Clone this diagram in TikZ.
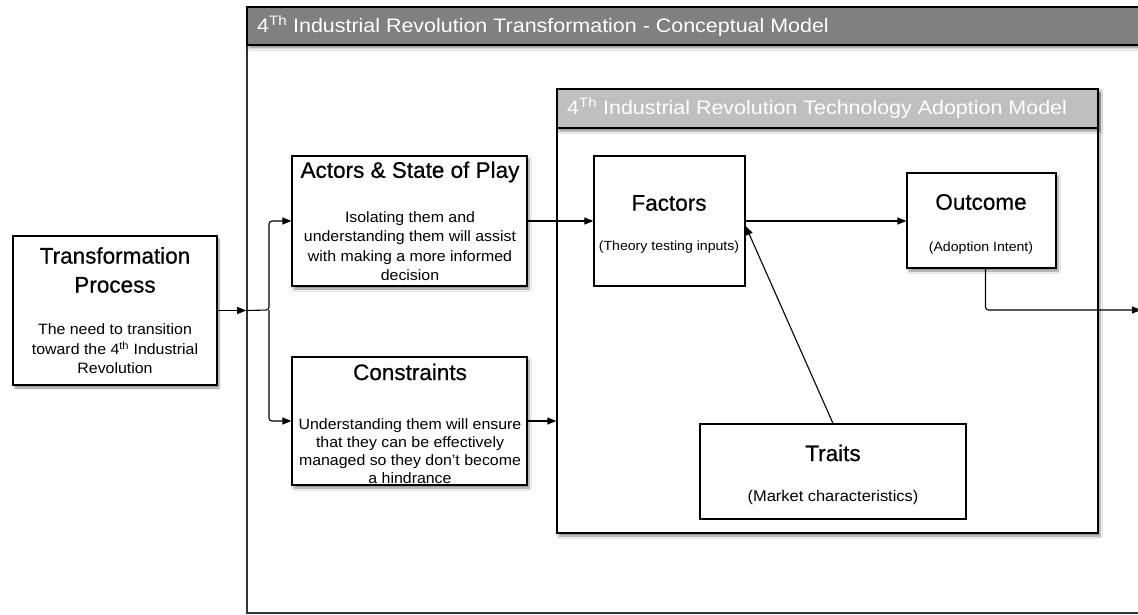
\documentclass[tikz,border=0pt]{standalone}
\usepackage{fontspec}
\setmainfont{Liberation Sans}
\newfontfamily\hdrfont[FakeStretch=1.1]{Liberation Sans}
\newfontfamily\bodyfont[FakeStretch=1.06]{Liberation Sans}
\newfontfamily\titlefont[FakeBold=0.6]{Liberation Sans}
\usetikzlibrary{arrows.meta,shadows.blur,fit}
\definecolor{hdrdark}{HTML}{808080}
\definecolor{hdrlight}{HTML}{BFBFBF}
\begin{document}
\begin{tikzpicture}[x=1pt,y=-1pt,
 box/.style={draw=black, line width=1.2pt, fill=white, inner sep=0pt},
 shad/.style={blur shadow={shadow xshift=2pt, shadow yshift=-3pt, shadow blur steps=6, shadow opacity=45}},
 title/.style={font=\titlefont\fontsize{22.5}{29}\selectfont, align=center, inner sep=0pt},
 body/.style={font=\bodyfont\fontsize{15}{19.4}\selectfont, align=center, inner sep=0pt},
 small/.style={font=\bodyfont\fontsize{13.3}{15}\selectfont, align=center, inner sep=0pt},
 arr/.style={line width=1.1pt, -{Triangle[length=9pt,width=7pt]}},
 hdr/.style={font=\hdrfont\fontsize{19.5}{22}\selectfont, text=white, anchor=west, inner sep=0pt}
]
\useasboundingbox (0,0) rectangle (1138,615);
\clip (0,0) rectangle (1138,615);
% outer frame
\node[draw=black!80, line width=1.6pt, fill=white, inner sep=0pt, fit={(247,7) (1170,613)}] (outer) {};
\node[draw=black, line width=1.6pt, fill=hdrdark, inner sep=0pt, shad, fit={(247,7) (1170,45)}] (ohdr) {};
\node[hdr] (ohdrT) at (257,26) {4\textsuperscript{Th} Industrial Revolution Transformation - Conceptual Model};
% inner frame
\node[draw=black, line width=1.4pt, fill=white, inner sep=0pt, shad, fit={(557,89) (1098,533)}] (inner) {};
\node[draw=black, line width=1.4pt, fill=hdrlight, inner sep=0pt, shad, fit={(557,89) (1098,128)}] (ihdr) {};
\node[hdr] (ihdrT) at (567,108) {4\textsuperscript{Th} Industrial Revolution Technology Adoption Model};
% boxes
\node[box, shad, fit={(13,236) (217,385)}] (tp) {};
\node[box, shad, fit={(292,156) (527,286)}] (act) {};
\node[box, shad, fit={(292,357) (527,485)}] (cons) {};
\node[box, fit={(594,156) (745,286)}] (fac) {};
\node[box, shad, fit={(907,173) (1056,268)}] (out) {};
\node[box, fit={(700,424) (966,519)}] (trait) {};
% texts
\node[title] (tpT) at (115,270) {Transformation\\Process};
\node[body] (tpB) at (115,349) {The need to transition\\toward the 4\textsuperscript{th} Industrial\\Revolution};
\node[title] (actT) at (410,172) {Actors \& State of Play};
\node[body] (actB) at (410,246) {Isolating them and\\understanding them will assist\\with making a more informed\\decision};
\node[title] (consT) at (410,372) {Constraints};
\node[body, font=\bodyfont\fontsize{15}{17.8}\selectfont] (consB) at (410,451) {Understanding them will ensure\\that they can be effectively\\managed so they don’t become\\a hindrance};
\node[title] (facT) at (669,203) {Factors};
\node[small] (facB) at (669,247) {(Theory testing inputs)};
\node[title] (outT) at (981,202) {Outcome};
\node[small] (outB) at (981,248) {(Adoption Intent)};
\node[title] (traitT) at (833,453) {Traits};
\node[small, font=\bodyfont\fontsize{15.5}{17}\selectfont] (traitB) at (833,497) {(Market characteristics)};
% connectors
\coordinate (split) at (269,310);
\coordinate (exit) at (1141,310);
\draw[arr] (tp.east) -- (outer.west |- tp.east);
\draw[arr, rounded corners=3pt] (outer.west |- tp.east) -- (split) |- (act.west);
\draw[arr, rounded corners=3pt] (split) |- (cons.west);
\draw[arr] (act.east) -- (fac.west |- act.east);
\draw[arr] (cons.east) -- (inner.west |- cons.east);
\draw[arr] (fac.east) -- (out.west |- fac.east);
\draw[arr] (trait.north) -- ([yshift=-5pt]fac.east);
\draw[arr, rounded corners=3pt] ([xshift=4pt]out.south) |- (exit);
\end{tikzpicture}
\end{document}
